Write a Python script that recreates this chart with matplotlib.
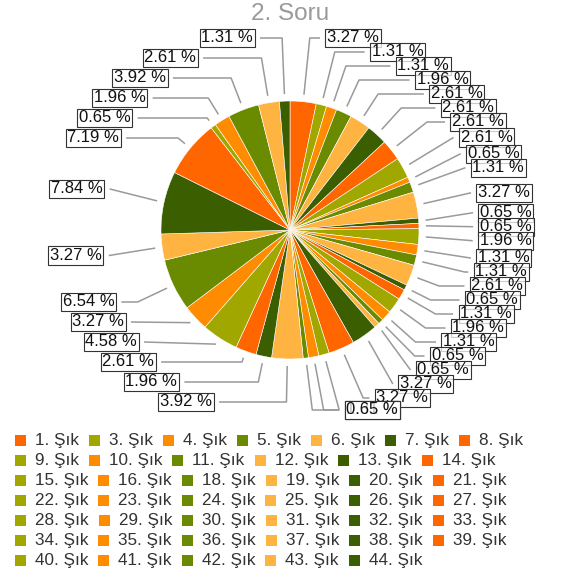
import matplotlib
matplotlib.use('Agg')
import numpy as np
import matplotlib.pyplot as plt
from matplotlib.patches import Rectangle

plt.rcParams['font.family'] = ['Liberation Sans', 'DejaVu Sans']

title = '2. Soru'
categories = ['1. Şık', '3. Şık', '4. Şık', '5. Şık', '6. Şık', '7. Şık', '8. Şık',
              '9. Şık', '10. Şık', '11. Şık', '12. Şık', '13. Şık', '14. Şık',
              '15. Şık', '16. Şık', '18. Şık', '19. Şık', '20. Şık', '21. Şık',
              '22. Şık', '23. Şık', '24. Şık', '25. Şık', '26. Şık', '27. Şık',
              '28. Şık', '29. Şık', '30. Şık', '31. Şık', '32. Şık', '33. Şık',
              '34. Şık', '35. Şık', '36. Şık', '37. Şık', '38. Şık', '39. Şık',
              '40. Şık', '41. Şık', '42. Şık', '43. Şık', '44. Şık']
counts = [5, 2, 2, 3, 4, 4, 4, 4, 1, 2, 5, 1, 1, 3, 2, 2, 4, 1, 2, 3, 2, 1, 1, 5, 5,
          2, 2, 1, 6, 3, 4, 7, 5, 10, 5, 12, 11, 1, 3, 6, 4, 2]
palette = ['#FF6600', '#A0A800', '#FF8C00', '#6A8A00', '#FFB340', '#3A5E00']

W, H = 569, 575
fig = plt.figure(figsize=(W / 100, H / 100), dpi=100)
ax = fig.add_axes([0, 0, 1, 1])


def Y(py):
    return H - py


cx, cy, R = 290, 230, 129
colors = [palette[i % len(palette)] for i in range(len(counts))]
ax.pie(counts, colors=colors, startangle=90, counterclock=False,
       center=(cx, Y(cy)), radius=R,
       wedgeprops=dict(edgecolor='white', linewidth=0.4))
ax.set_xlim(0, W)
ax.set_ylim(0, H)
ax.set_aspect('auto')
ax.axis('off')

total = float(sum(counts))
vals = np.array(counts, dtype=float)
starts = np.concatenate([[0], np.cumsum(vals)[:-1]])
mids = (starts + vals / 2) / total * 2 * np.pi  # clockwise from top
labels = ['%.2f %%' % (v / total * 100) for v in vals]

Ry = 192
r_anchor = R + 7


def layout(ny, d, lo, hi, clip_hi):
    n = len(ny)
    if n > 1 and (hi - lo) / (n - 1) < d:
        d = (hi - lo) / (n - 1)
    z = [ny[i] - d * i for i in range(n)]
    blocks = []
    for v in z:
        blocks.append([v, 1])
        while len(blocks) > 1 and blocks[-2][0] / blocks[-2][1] > blocks[-1][0] / blocks[-1][1]:
            s, c = blocks.pop()
            blocks[-1][0] += s
            blocks[-1][1] += c
    out = []
    for s, c in blocks:
        out += [s / c] * c
    zhi = hi - d * (n - 1)
    out = [min(max(v, lo), zhi) for v in out]
    return [min(out[i] + d * i, clip_hi) for i in range(n)]


ly = np.zeros(len(vals))
for side, d, hi, clip_hi in (('r', 14, cy + 210, cy + 180), ('l', 20, cy + 172, cy + 172)):
    idx = [i for i in range(len(vals)) if (mids[i] < np.pi) == (side == 'r')]
    ny = {i: cy - Ry * np.cos(mids[i]) for i in idx}
    order = sorted(idx, key=lambda i: ny[i])
    pos = layout([ny[i] for i in order], d, cy - 192, hi, clip_hi)
    for i, p in zip(order, pos):
        ly[i] = p

for i in range(len(vals)):
    th = mids[i]
    s, c = np.sin(th), np.cos(th)
    sign = 1 if th < np.pi else -1
    y = ly[i]
    dy = y - cy
    Rb = 188 + 7 * np.clip(-dy / 150.0, 0, 1)
    dx = max(np.sqrt(max(Rb ** 2 - dy ** 2, 0)), 35)
    edge = cx + sign * dx
    ax_pt = (cx + r_anchor * s, cy - r_anchor * c)
    pts = [(edge - sign * 5, y)]
    if abs(c) > 1e-6:
        t = (cy - y) / c
        if t > r_anchor:
            ex = cx + t * s
            if sign * (ex - (edge - sign * 5)) < 0:
                pts.append((ex, y))
    pts.append(ax_pt)
    xs = [p[0] for p in pts]
    ys = [Y(p[1]) for p in pts]
    ax.plot(xs, ys, color='#9a9a9a', lw=1.1, zorder=2, solid_capstyle='butt')
    ax.text(edge + sign * 2, Y(y), labels[i], ha='left' if sign > 0 else 'right',
            va='center', fontsize=12, color='#111111', zorder=5 + i,
            bbox=dict(boxstyle='square,pad=0.1', fc=(1, 1, 1, 0.75),
                      ec='#333333', lw=0.8))

ax.text(cx, Y(14), title, ha='center', va='center', fontsize=17.5,
        color='#9a9a9a', zorder=100)

# legend (flow layout)
renderer = fig.canvas.get_renderer()
x0, x, row = 15, 15, 0
limit = 560
for i, name in enumerate(categories):
    t = ax.text(0, 0, name, fontsize=12.3, va='center', ha='left', color='#333333')
    w = t.get_window_extent(renderer).width
    if x + 20 + w > limit:
        row += 1
        x = x0
    yy = 440 + 20 * row
    t.set_position((x + 20, Y(yy)))
    ax.add_patch(Rectangle((x, Y(yy) - 5.5), 11, 11, facecolor=colors[i],
                           edgecolor='none'))
    x += 20 + w + 10

fig.savefig('out.png', dpi=100)
